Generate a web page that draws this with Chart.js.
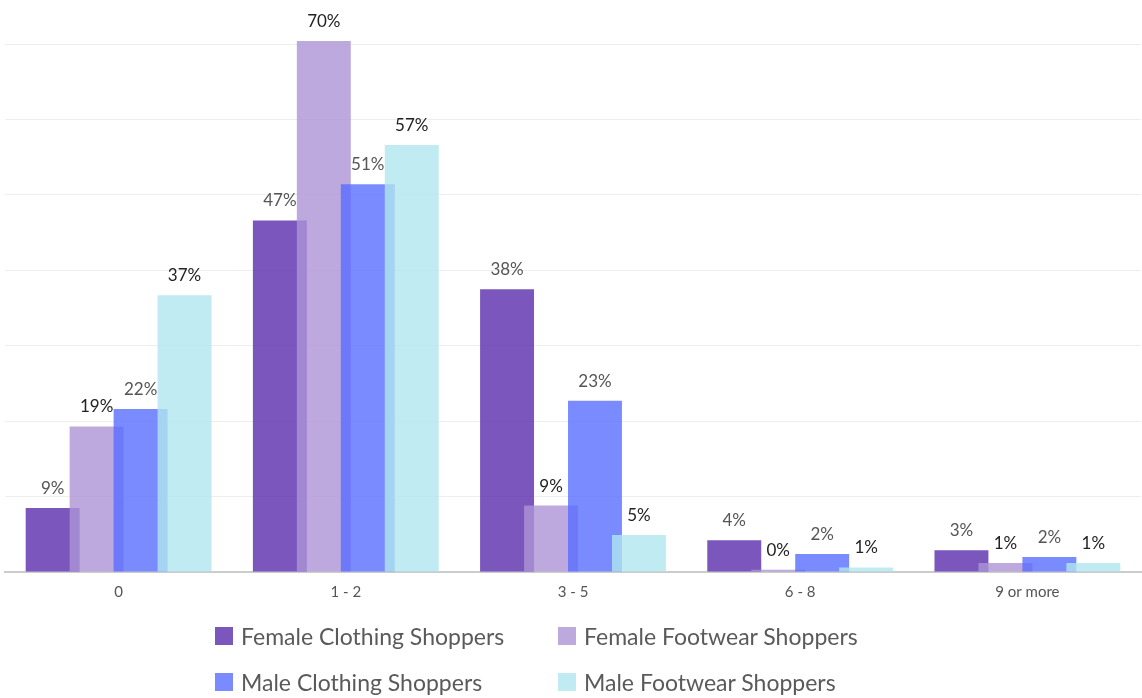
<!DOCTYPE html>
<html>
<head>
<meta charset="utf-8">
<script src="https://cdn.jsdelivr.net/npm/chart.js@4/dist/chart.umd.min.js"></script>
<style>
  html, body { margin: 0; padding: 0; background: #fff; }
  #wrap { position: relative; width: 1142px; height: 698px; }
  #legend { position: absolute; left: 215px; top: 622px; display: grid;
    grid-template-columns: 343px 300px; row-gap: 18px;
    font-family: Lato, sans-serif; font-size: 23px; color: #5a5a5a; }
  .item { display: flex; align-items: center; height: 28px; white-space: nowrap; }
  .box { width: 18px; height: 18px; margin-right: 8px; }
</style>
</head>
<body>
<div id="wrap">
  <canvas id="chart" width="1142" height="698"></canvas>
  <div id="legend"></div>
</div>
<script>
// 数据
const categories = ['0', '1 - 2', '3 - 5', '6 - 8', '9 or more'];
const seriesNames = ['Female Clothing Shoppers', 'Female Footwear Shoppers', 'Male Clothing Shoppers', 'Male Footwear Shoppers'];
const femaleClothing = [8.5, 46.6, 37.5, 4.2, 2.9];
const femaleFootwear = [19.3, 70.4, 8.8, 0.3, 1.2];
const maleClothing = [21.6, 51.4, 22.7, 2.4, 2.0];
const maleFootwear = [36.7, 56.6, 4.9, 0.6, 1.2];

const colors = ['rgba(89, 44, 172, 0.8)', 'rgba(172, 147, 214, 0.8)', 'rgba(89, 110, 255, 0.8)', 'rgba(176, 230, 239, 0.8)'];
const swatches = ['#7a56bd', '#bda9de', '#7a8bff', '#c0ebf2'];
const labelColors = ['#555', '#222', '#555', '#222'];

// 按顺序绘制柱子（后面的系列盖在前面的上面），再画百分比标签
const drawInOrder = {
    id: 'drawInOrder',
    beforeDatasetsDraw(chart) {
        for (let i = 0; i < chart.data.datasets.length; i++) {
            chart.getDatasetMeta(i).controller.draw();
        }
        return false;
    },
    afterDraw(chart) {
        const ctx = chart.ctx;
        ctx.save();
        ctx.font = '17px Lato, sans-serif';
        ctx.textAlign = 'center';
        ctx.textBaseline = 'bottom';
        chart.data.datasets.forEach((ds, i) => {
            chart.getDatasetMeta(i).data.forEach((bar, j) => {
                ctx.fillStyle = labelColors[i];
                ctx.fillText(Math.round(ds.data[j]) + '%', bar.x, bar.y - 11);
            });
        });
        ctx.restore();
    }
};

const datasets = [femaleClothing, femaleFootwear, maleClothing, maleFootwear].map((d, i) => ({
    label: seriesNames[i],
    data: d,
    backgroundColor: colors[i],
    borderWidth: 0,
    clip: false,
    categoryPercentage: 0.774,
    barPercentage: 1.227
}));

new Chart(document.getElementById('chart').getContext('2d'), {
    type: 'bar',
    data: { labels: categories, datasets: datasets },
    options: {
        responsive: false,
        animation: false,
        layout: { padding: { left: 5, right: 1, top: 44, bottom: 94 } },
        plugins: {
            legend: { display: false },
            tooltip: { enabled: false }
        },
        scales: {
            x: {
                grid: { display: false },
                border: { color: '#cccccc', width: 2 },
                ticks: {
                    color: '#555',
                    padding: 3,
                    font: { family: 'Lato, sans-serif', size: 15 }
                }
            },
            y: {
                min: 0,
                max: 70,
                ticks: { display: false, stepSize: 10 },
                grid: { color: '#eeeeee', drawTicks: false },
                border: { display: false }
            }
        }
    },
    plugins: [drawInOrder]
});

// 图例
const legend = document.getElementById('legend');
seriesNames.forEach((name, i) => {
    const item = document.createElement('div');
    item.className = 'item';
    item.innerHTML = '<span class="box" style="background:' + swatches[i] + '"></span>' + name;
    legend.appendChild(item);
});
</script>
</body>
</html>
